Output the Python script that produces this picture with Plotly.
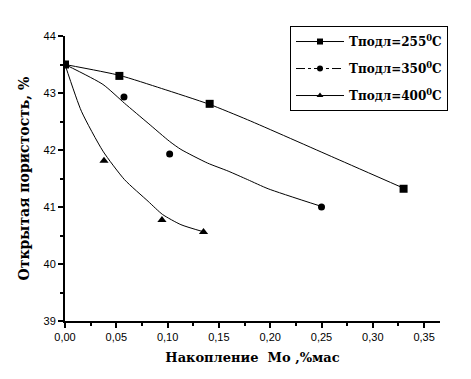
import plotly.graph_objects as go

# measured points
x255 = [0.0, 0.053, 0.141, 0.330]
y255 = [43.50, 43.30, 42.81, 41.32]
x350 = [0.0, 0.0575, 0.102, 0.250]
y350 = [43.50, 42.93, 41.93, 41.00]
x400 = [0.0, 0.038, 0.0945, 0.135]
y400 = [43.50, 41.81, 40.77, 40.56]

# fitted curves
fx255 = [0.0, 0.053, 0.094, 0.141, 0.178, 0.263, 0.330]
fy255 = [43.50, 43.31, 43.08, 42.80, 42.53, 41.86, 41.33]
fx350 = [0.0, 0.037, 0.058, 0.081, 0.102, 0.113, 0.139, 0.159, 0.178, 0.198, 0.250]
fy350 = [43.50, 43.15, 42.82, 42.47, 42.15, 42.01, 41.77, 41.63, 41.48, 41.32, 41.01]
fx400 = [0.0, 0.016, 0.037, 0.058, 0.081, 0.095, 0.113, 0.136]
fy400 = [43.50, 42.68, 41.98, 41.48, 41.10, 40.87, 40.69, 40.56]

names = ["Тподл=255<sup>0</sup>C", "Тподл=350<sup>0</sup>C", "Тподл=400<sup>0</sup>C"]
x_ticks = [0.0, 0.05, 0.10, 0.15, 0.20, 0.25, 0.30, 0.35]
y_ticks = [39, 40, 41, 42, 43, 44]

fig = go.Figure()
series = [
    (x255, y255, fx255, fy255, "square", 8, "solid"),
    (x350, y350, fx350, fy350, "circle", 7, "dashdot"),
    (x400, y400, fx400, fy400, "triangle-up", 8, "solid"),
]
for i, ((xs, ys, fx, fy, sym, ms, dash), nm) in enumerate(zip(series, names)):
    fig.add_trace(go.Scatter(x=fx, y=fy, mode="lines",
                             line=dict(color="black", width=1, shape="spline", smoothing=0.6),
                             showlegend=False, hoverinfo="skip"))
    fig.add_trace(go.Scatter(x=xs, y=ys, mode="markers", marker=dict(symbol=sym, size=ms, color="black"),
                             showlegend=False))
    fig.add_trace(go.Scatter(x=[None], y=[None], mode="lines+markers", name=nm, legendgroup=f"g{i}",
                             line=dict(color="black", width=1, dash=dash),
                             marker=dict(symbol=sym, size=6, color="black")))

serif = "DejaVu Serif, serif"
fig.update_layout(
    width=471, height=379,
    margin=dict(l=57, r=39, t=28, b=66),
    paper_bgcolor="white", plot_bgcolor="white",
    separators=", ",
    font=dict(family="Liberation Sans, Arial, sans-serif", size=11, color="black"),
    showlegend=True,
    legend=dict(x=0.6, y=1.035, xanchor="left", yanchor="top",
                bordercolor="black", borderwidth=1, bgcolor="white",
                font=dict(family=serif, size=12, color="black", weight="bold"),
                tracegroupgap=8, itemwidth=48),
)
fig.update_xaxes(range=[0, 0.3655], tickvals=x_ticks, tickformat=".2f",
                 showgrid=False, zeroline=False, showline=True, linecolor="black", linewidth=2,
                 ticks="outside", ticklen=5, tickwidth=1.5, tickcolor="black",
                 minor=dict(tickvals=[0.025, 0.075, 0.125, 0.175, 0.225, 0.275, 0.325],
                            ticks="outside", ticklen=3, tickcolor="black", tickwidth=1.5),
                 title=dict(text="Накопление  Mo ,%мас", font=dict(family=serif, size=13, weight="bold"), standoff=11))
fig.update_yaxes(range=[39, 44], tickvals=y_ticks,
                 showgrid=False, zeroline=False, showline=True, linecolor="black", linewidth=2,
                 ticks="outside", ticklen=5, tickwidth=1.5, tickcolor="black",
                 minor=dict(tickvals=[39.5, 40.5, 41.5, 42.5, 43.5],
                            ticks="outside", ticklen=3, tickcolor="black", tickwidth=1.5),
                 title=dict(text="Открытая пористость, %", font=dict(family=serif, size=14, weight="bold"), standoff=11))

fig.write_html("out.html")
